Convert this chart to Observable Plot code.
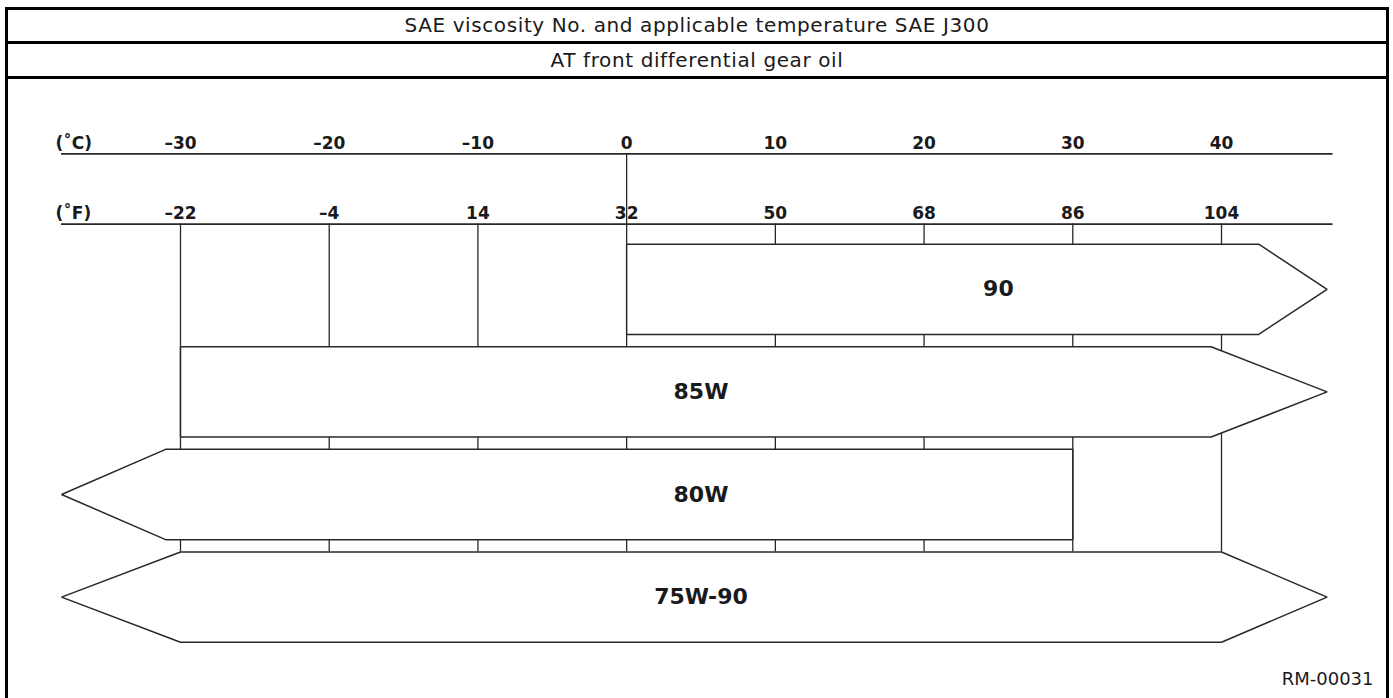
<!DOCTYPE html>
<html>
<head>
<meta charset="utf-8">
<script src="https://cdn.jsdelivr.net/npm/d3@7"></script>
<script src="https://cdn.jsdelivr.net/npm/@observablehq/plot@0.6"></script>
<style>
html,body{margin:0;padding:0;background:#fff;}
body{width:1393px;height:698px;overflow:hidden;position:relative;font-family:"DejaVu Sans",sans-serif;color:#1a1a1a;}
#frame{position:absolute;left:5px;top:7px;width:1384px;height:720px;box-sizing:border-box;border:3px solid #000;border-bottom:none;}
.hdr{box-sizing:border-box;text-align:center;font-size:20px;letter-spacing:0.6px;border-bottom:3px solid #000;white-space:nowrap;}
#title{height:34px;line-height:31px;}
#subtitle{height:35px;line-height:32px;}
#chart{position:absolute;left:0;top:69px;}
</style>
</head>
<body>
<div id="frame">
  <div id="title" class="hdr"></div>
  <div id="subtitle" class="hdr"></div>
  <div id="chart"></div>
</div>
<script>
// ---- data ----
const title = "SAE viscosity No. and applicable temperature SAE J300";
const subtitle = "AT front differential gear oil";
const grades = ["90", "85W", "80W", "75W-90"];
const bodyStartC = [0, -30, -31, -30];     // where each band's body begins (°C)
const bodyEndC = [42.5, 39.3, 30, 40];     // where each band's body ends (°C)
const arrowCold = [false, false, true, true];
const arrowHot = [true, true, false, true];
const celsiusTicks = [-30, -20, -10, 0, 10, 20, 30, 40];
const fahrenheitTicks = [-22, -4, 14, 32, 50, 68, 86, 104];
const unitLabels = ["(˚C)", "(˚F)"];
const figureId = ["RM-00031"];

document.getElementById("title").textContent = title;
document.getElementById("subtitle").textContent = subtitle;

// ---- layout ----
const W = 1378, H = 619;
const tipColdC = -38, tipHotC = 47.1, axisEndC = 47.5;
const halfH = 0.44;
const rowStep = 102.6, row0 = 209.8;
const cAxisRow = -1.319, fAxisRow = -0.636;
const ink = "#2b2727";

const polys = grades.flatMap((g, i) => {
  const top = i - halfH, bot = i + halfH;
  const pts = [[bodyStartC[i], top], [bodyEndC[i], top]];
  if (arrowHot[i]) pts.push([tipHotC, i]);
  pts.push([bodyEndC[i], bot], [bodyStartC[i], bot]);
  if (arrowCold[i]) pts.push([tipColdC, i]);
  pts.push([bodyStartC[i], top]);
  return pts.map(([x, y]) => ({grade: g, x, y}));
});

const lo = celsiusTicks[0], hi = celsiusTicks[celsiusTicks.length - 1];
const step = celsiusTicks[1] - celsiusTicks[0];
// labels sit in the middle of the band's visible stretch
const labelX = (g, i) => bodyStartC[i] > lo ? (bodyStartC[i] + hi + step) / 2 : (lo + hi) / 2;
const fmt = d => String(d).replace("-", "–");

const chart = Plot.plot({
  width: W,
  height: H,
  margin: 0,
  x: {type: "linear", domain: [lo, hi], range: [172, 1213], axis: null},
  y: {type: "linear", domain: [-row0 / rowStep, (H - row0) / rowStep], range: [0, H], axis: null},
  style: {fontFamily: "DejaVu Sans, sans-serif", background: "transparent", overflow: "visible", color: "#1a1a1a"},
  marks: [
    Plot.ruleX(celsiusTicks, {x: d => d, y1: fAxisRow, y2: grades.length - 1 - halfH, stroke: ink, strokeWidth: 1.3}),
    Plot.ruleX(celsiusTicks.filter(d => d === 0), {x: d => d, y1: cAxisRow, y2: fAxisRow, stroke: ink, strokeWidth: 1.3}),
    Plot.ruleY([cAxisRow, fAxisRow], {y: d => d, x1: tipColdC, x2: axisEndC, stroke: ink, strokeWidth: 1.8}),
    Plot.text(celsiusTicks, {x: d => d, y: cAxisRow, text: fmt, lineAnchor: "bottom", dy: -5, fontWeight: "bold", fontSize: 17, fill: "#1a1a1a"}),
    Plot.text(fahrenheitTicks, {x: f => (f - 32) * 5 / 9, y: fAxisRow, text: fmt, lineAnchor: "bottom", dy: -5, fontWeight: "bold", fontSize: 17, fill: "#1a1a1a"}),
    Plot.text(unitLabels, {frameAnchor: "left", y: (d, i) => [cAxisRow, fAxisRow][i], text: d => d, dx: 47, textAnchor: "start", lineAnchor: "bottom", dy: -5, fontWeight: "bold", fontSize: 17, fill: "#1a1a1a"}),
    Plot.line(polys, {x: "x", y: "y", z: "grade", fill: "white", stroke: ink, strokeWidth: 1.5, strokeLinejoin: "miter"}),
    Plot.text(grades, {x: labelX, y: (d, i) => i, text: d => d, fontSize: 22, fontWeight: "bold", fill: "#1a1a1a"}),
    Plot.text(figureId, {frameAnchor: "bottom-right", text: d => d, dx: -13, dy: -14, lineAnchor: "bottom", textAnchor: "end", fontSize: 18, fill: "#1a1a1a"})
  ]
});
document.getElementById("chart").appendChild(chart);
</script>
</body>
</html>
